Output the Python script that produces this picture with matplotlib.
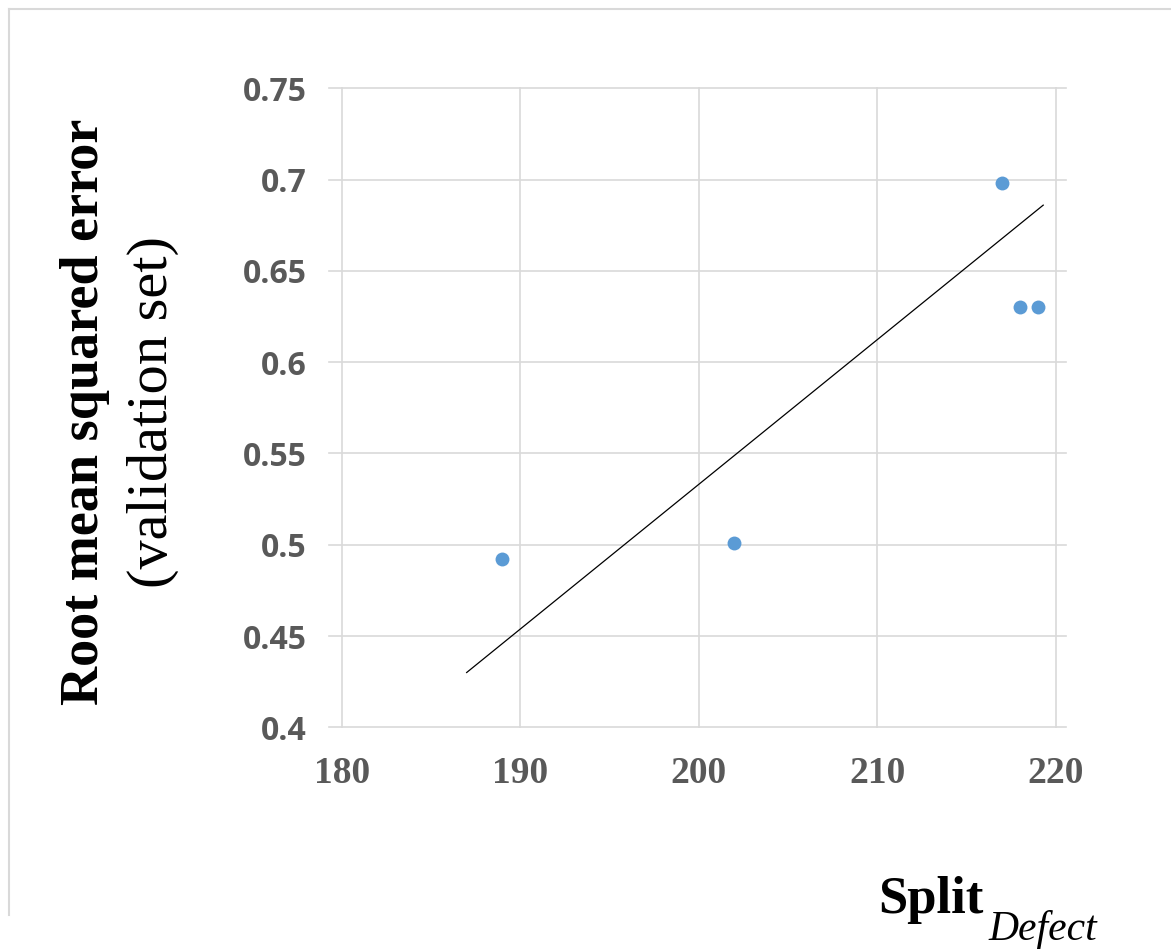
import matplotlib
matplotlib.use('Agg')
import matplotlib.pyplot as plt
from matplotlib.lines import Line2D

# ---- data ----
split_defect = [189, 202, 217, 218, 219]
rmse = [0.492, 0.501, 0.698, 0.630, 0.630]
trend_x = [187.0, 219.3]
trend_y = [0.430, 0.686]
x_ticks = [180, 190, 200, 210, 220]
x_tick_labels = ['180', '190', '200', '210', '220']
y_ticks = [0.40, 0.45, 0.50, 0.55, 0.60, 0.65, 0.70, 0.75]
y_tick_labels = ['0.4', '0.45', '0.5', '0.55', '0.6', '0.65', '0.7', '0.75']

W, H = 1171, 951
fig = plt.figure(figsize=(W / 100, H / 100), dpi=100)
fig.patch.set_facecolor('white')

# layout (pixels)
px_lo, px_hi = 341.7, 1055.7   # x=180, x=220
py_lo, py_hi = 727.3, 88.3     # y=0.4, y=0.75
left_px, right_px = 328.5, 1066.0
ppu_x = (px_hi - px_lo) / (x_ticks[-1] - x_ticks[0])
xmin = x_ticks[0] - (px_lo - left_px) / ppu_x
xmax = x_ticks[-1] + (right_px - px_hi) / ppu_x

ax = fig.add_axes([left_px / W, 1 - py_lo / H, (right_px - left_px) / W, (py_lo - py_hi) / H])
ax.set_xlim(xmin, xmax)
ax.set_ylim(y_ticks[0], y_ticks[-1])
for s in ax.spines.values():
    s.set_visible(False)

ax.set_xticks(x_ticks)
ax.set_xticklabels(x_tick_labels, fontfamily='Liberation Serif', fontweight='bold',
                   fontsize=27, color='#595959')
ax.set_yticks(y_ticks)
ax.set_yticklabels(y_tick_labels, fontfamily='Open Sans', fontweight='bold',
                   fontsize=23, color='#595959')
ax.tick_params(axis='x', length=0, pad=21)
ax.tick_params(axis='y', length=0, pad=16)

ax.grid(True, color='#D9D9D9', linewidth=1.2)
ax.set_axisbelow(True)
for ln in ax.get_xgridlines() + ax.get_ygridlines():
    ln.set_clip_on(False)

ax.scatter(split_defect, rmse, s=100, color='#5B9BD5', zorder=3, linewidths=0, clip_on=False)
ax.plot(trend_x, trend_y, color='black', linewidth=0.9, zorder=4, clip_on=False)

# axis titles
fig.text(85 / W, 1 - 412 / H, 'Root mean squared error', rotation=90,
         fontfamily='Liberation Serif', fontweight='bold', fontsize=39,
         ha='center', va='center', color='black')
fig.text(153 / W, 1 - 412 / H, '(validation set)', rotation=90,
         fontfamily='Liberation Serif', fontsize=42,
         ha='center', va='center', color='black')
fig.text(878 / W, 1 - 913 / H, 'Split', fontfamily='Liberation Serif', fontweight='bold',
         fontsize=38, ha='left', va='baseline', color='black')
fig.text(988 / W, 1 - 940 / H, 'Defect', fontfamily='Liberation Serif', fontstyle='italic',
         fontsize=30, ha='left', va='baseline', color='black')

# outer frame (top and left edges)
fig.add_artist(Line2D([9 / W, 1.0], [1 - 9 / H, 1 - 9 / H], transform=fig.transFigure,
                      color='#D9D9D9', linewidth=1.5))
fig.add_artist(Line2D([9 / W, 9 / W], [1 - 9 / H, 1 - 915 / H], transform=fig.transFigure,
                      color='#D9D9D9', linewidth=1.5))

fig.savefig('out.png', dpi=100, facecolor='white')
